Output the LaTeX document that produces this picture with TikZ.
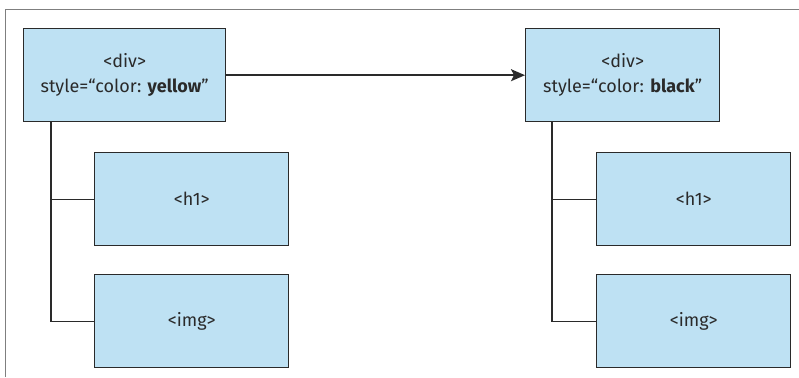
\documentclass[tikz,border=0pt]{standalone}
\usepackage{fontspec}
\setmainfont{Fira Sans}
\usetikzlibrary{arrows.meta}
\definecolor{boxfill}{HTML}{BEE1F3}
\definecolor{boxline}{HTML}{2A2A2A}
\definecolor{framegray}{HTML}{7F7F7F}
\begin{document}
\begin{tikzpicture}[x=1pt,y=-1pt,
  elem/.style={draw=boxline, fill=boxfill, line width=1.4pt, inner sep=0pt,
    minimum width=194pt, minimum height=93pt, align=center,
    font=\fontsize{18}{25}\selectfont, text=boxline},
  wire/.style={draw=boxline, line width=1.4pt},
  every node/.style={anchor=north west}]
\useasboundingbox (0,0) rectangle (799,377);
% open frame
\draw[framegray, line width=1.2pt] (5.5,377) -- (5.5,9.5) -- (799,9.5);

% left tree
\node[elem, minimum width=202pt] (d1) at (23,28) {<div>\\style=“color: \textbf{yellow}”};
\node[elem] (h1a) at (94,152) {<h1>};
\node[elem] (img1) at (94,274) {<img>};
\coordinate (t1) at (51,121);
\draw[wire] (t1) |- (img1.west);
\draw[wire] (t1 |- h1a.west) -- (h1a.west);

% right tree
\node[elem] (d2) at (525,28) {<div>\\style=“color: \textbf{black}”};
\node[elem] (h1b) at (596,152) {<h1>};
\node[elem] (img2) at (596,274) {<img>};
\coordinate (t2) at (552,121);
\draw[wire] (t2) |- (img2.west);
\draw[wire] (t2 |- h1b.west) -- (h1b.west);

% change arrow
\draw[wire, -{Stealth[length=14pt,width=12pt,inset=3pt]}] (d1.east) -- (d2.west);
\end{tikzpicture}
\end{document}
